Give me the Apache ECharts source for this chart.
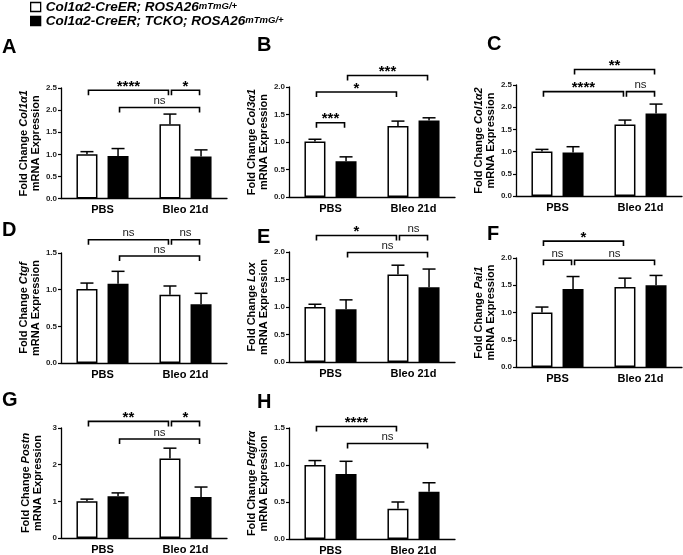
<!DOCTYPE html>
<html><head><meta charset="utf-8">
<script src="https://cdn.jsdelivr.net/npm/echarts@6/dist/echarts.min.js"></script>
<style>html,body{margin:0;padding:0;background:#fff}#c{width:683px;height:555px}</style>
</head><body><div id="c"></div>
<script>
// ---------- DATA ----------
const categories = ['PBS', 'Bleo 21d'];
const genotypes = ['Col1α2-CreER; ROSA26', 'Col1α2-CreER; TCKO; ROSA26'];
const genotypeSup = 'mTmG/+';
const panelLetters = ['A', 'B', 'C', 'D', 'E', 'F', 'G', 'H'];
const genes = ['Col1α1', 'Col3α1', 'Col1α2', 'Ctgf', 'Lox', 'Pai1', 'Postn', 'Pdgfrα'];
// means [PBS, Bleo 21d]
const ctrlMean = [[1.00, 1.68], [1.01, 1.29], [1.00, 1.61], [1.01, 0.93], [1.00, 1.59], [1.00, 1.47], [1.00, 2.17], [1.00, 0.41]];
const ctrlSem  = [[0.06, 0.23], [0.04, 0.09], [0.05, 0.10], [0.08, 0.12], [0.05, 0.17], [0.10, 0.16], [0.06, 0.28], [0.06, 0.09]];
const tckoMean = [[0.96, 0.95], [0.65, 1.39], [0.98, 1.86], [1.08, 0.80], [0.96, 1.36], [1.43, 1.50], [1.14, 1.12], [0.88, 0.64]];
const tckoSem  = [[0.17, 0.15], [0.08, 0.05], [0.13, 0.21], [0.17, 0.15], [0.17, 0.33], [0.23, 0.18], [0.09, 0.27], [0.17, 0.12]];
const yMax      = [2.5, 2.0, 2.5, 1.5, 2.0, 2.0, 3, 1.5];
const yInterval = [0.5, 0.5, 0.5, 0.5, 0.5, 0.5, 1, 0.5];
// brackets: [fromBar, toBar, level, label]; bars: 0=PBS ctrl, 1=PBS TCKO, 2=Bleo ctrl, 3=Bleo TCKO
const brackets = [
  [[0, 2, 2.45, '****'], [2, 3, 2.45, '*'], [1, 3, 2.06, 'ns']],
  [[0, 1, 1.35, '***'], [0, 2, 1.91, '*'], [1, 3, 2.21, '***']],
  [[0, 2, 2.35, '****'], [2, 3, 2.35, 'ns'], [1, 3, 2.85, '**']],
  [[0, 2, 1.68, 'ns'], [2, 3, 1.68, 'ns'], [1, 3, 1.46, 'ns']],
  [[0, 2, 2.30, '*'], [2, 3, 2.30, 'ns'], [1, 3, 1.99, 'ns']],
  [[0, 2, 2.31, '*'], [0, 1, 1.96, 'ns'], [1, 3, 1.96, 'ns']],
  [[0, 2, 3.18, '**'], [2, 3, 3.18, '*'], [1, 3, 2.70, 'ns']],
  [[0, 2, 1.52, '****'], [1, 3, 1.29, 'ns']]
];

// ---------- LAYOUT / STYLE ----------
const FONT = "'Liberation Sans', Arial, Helvetica, sans-serif";
const BAR_W = 21, BAR_GAP = '48%';
const BAR_OFF = (21 + 21 * 0.48) / 2;
const CAP = 6.5, INSET = 1.5, LEG = 5;
const gridBoxes = [
  [61, 88, 166, 110.5], [289, 87, 166, 110], [516, 85, 166, 111],
  [61, 253, 166, 110], [289, 252, 166, 110], [516, 258, 166, 109],
  [61, 428, 166, 110], [289, 428, 166, 111]
];
const letterPos = [[2, 37], [257, 35], [487, 34], [2, 220], [257, 227], [487, 224], [2, 390], [257, 392]];

const seriesNames = genotypes.map(g => g + genotypeSup);

function barCenterX(api, bar, level) {
  const p = api.coord([Math.floor(bar / 2), level]);
  return [p[0] + (bar % 2 ? 1 : -1) * BAR_OFF, p[1]];
}

function errRender(side) {
  return function (params, api) {
    const c = api.coord([api.value(0), api.value(1)]);
    const t = api.coord([api.value(0), api.value(2)]);
    const x = c[0] + side * BAR_OFF;
    const st = { stroke: '#000', lineWidth: 1.5 };
    return { type: 'group', children: [
      { type: 'line', shape: { x1: x, y1: c[1], x2: x, y2: t[1] }, style: st },
      { type: 'line', shape: { x1: x - CAP, y1: t[1], x2: x + CAP, y2: t[1] }, style: st }
    ] };
  };
}

function bracketRender(p) {
  return function (params, api) {
    const b = brackets[p][params.dataIndex];
    const level = api.value(1);
    const a = barCenterX(api, b[0], level);
    const z = barCenterX(api, b[1], level);
    const x1 = a[0] + INSET, x2 = z[0] - INSET, y = a[1];
    const st = { stroke: '#000', lineWidth: 1.6, fill: null };
    const isStar = b[3].indexOf('*') >= 0;
    return { type: 'group', children: [
      { type: 'polyline', shape: { points: [[x1, y + LEG], [x1, y], [x2, y], [x2, y + LEG]] }, style: st },
      { type: 'text', style: {
          text: b[3], x: (x1 + x2) / 2, y: isStar ? y + 4 : y - 0.5,
          align: 'center', verticalAlign: 'bottom',
          fontSize: isStar ? 15 : 11.5, fontWeight: isStar ? 'bold' : 'normal',
          fontFamily: FONT, fill: isStar ? '#000' : '#222' } }
    ] };
  };
}

const grid = [], xAxis = [], yAxis = [], series = [], title = [];
for (let p = 0; p < 8; p++) {
  const g = gridBoxes[p];
  grid.push({ left: g[0], top: g[1], width: g[2], height: g[3], outerBoundsMode: 'none', containLabel: false });
  title.push({ text: panelLetters[p], left: letterPos[p][0], top: letterPos[p][1], padding: 0,
    textStyle: { fontSize: 20, fontWeight: 'bold', fontFamily: FONT, color: '#000' } });
  xAxis.push({ type: 'category', gridIndex: p, data: categories,
    axisLine: { lineStyle: { color: '#000', width: 1.3 } },
    axisTick: { alignWithLabel: true, length: 3, lineStyle: { color: '#000', width: 1.3 } },
    axisLabel: { fontSize: 11, fontWeight: 'bold', fontFamily: FONT, color: '#000', margin: 6 } });
  const dec = yInterval[p] < 1 ? 1 : 0;
  yAxis.push({ type: 'value', gridIndex: p, min: 0, max: yMax[p], interval: yInterval[p],
    axisLine: { show: true, lineStyle: { color: '#000', width: 1.3 } },
    axisTick: { show: true, length: 3, lineStyle: { color: '#000', width: 1.2 } },
    splitLine: { show: false },
    axisLabel: { fontSize: 8, fontWeight: 'bold', fontFamily: FONT, color: '#222', margin: 4,
      formatter: v => v.toFixed(dec) },
    name: '{n|Fold Change }{g|' + genes[p] + '}\n{n|mRNA Expression}',
    nameLocation: 'middle', nameRotate: 90, nameGap: 17,
    nameTextStyle: { fontSize: 11, fontWeight: 'bold', fontFamily: FONT, color: '#000', lineHeight: 12,
      rich: { n: { fontSize: 11, fontWeight: 'bold', fontFamily: FONT, color: '#000', lineHeight: 12 },
              g: { fontSize: 11, fontWeight: 'bold', fontStyle: 'italic', fontFamily: FONT, color: '#000', lineHeight: 12 } } } });
  series.push({ type: 'bar', name: seriesNames[0], xAxisIndex: p, yAxisIndex: p, data: ctrlMean[p],
    barWidth: BAR_W, barGap: BAR_GAP,
    itemStyle: { color: '#fff', borderColor: '#000', borderWidth: 1.5 } });
  series.push({ type: 'bar', name: seriesNames[1], xAxisIndex: p, yAxisIndex: p, data: tckoMean[p],
    barWidth: BAR_W, barGap: BAR_GAP,
    itemStyle: { color: '#000', borderColor: '#000', borderWidth: 1.5 } });
  series.push({ type: 'custom', xAxisIndex: p, yAxisIndex: p, renderItem: errRender(-1), z: 3,
    encode: { x: 0, y: 1 },
    data: categories.map((c, j) => [j, ctrlMean[p][j], ctrlMean[p][j] + ctrlSem[p][j]]) });
  series.push({ type: 'custom', xAxisIndex: p, yAxisIndex: p, renderItem: errRender(1), z: 3,
    encode: { x: 0, y: 1 },
    data: categories.map((c, j) => [j, tckoMean[p][j], tckoMean[p][j] + tckoSem[p][j]]) });
  series.push({ type: 'custom', xAxisIndex: p, yAxisIndex: p, renderItem: bracketRender(p), z: 4,
    clip: false, encode: { x: 0, y: 1 },
    data: brackets[p].map(b => [0, b[2]]) });
}

const chart = echarts.init(document.getElementById('c'), null, { renderer: 'canvas' });
chart.setOption({
  animation: false,
  backgroundColor: '#fff',
  title: title,
  legend: {
    data: seriesNames, orient: 'vertical', left: 30, top: 0, padding: 0,
    icon: 'rect', itemWidth: 10, itemHeight: 9, itemGap: 0, selectedMode: false,
    itemStyle: { borderWidth: 1.3 },
    formatter: name => {
      const k = name.indexOf(genotypeSup);
      return '{b|' + name.slice(0, k) + '}{s|' + genotypeSup + '}';
    },
    textStyle: { fontFamily: FONT, color: '#000',
      rich: { b: { fontSize: 13.5, fontWeight: 'bold', fontStyle: 'italic', fontFamily: FONT, color: '#000', lineHeight: 12 },
              s: { fontSize: 9.5, fontWeight: 'bold', fontStyle: 'italic', fontFamily: FONT, color: '#000', lineHeight: 12, verticalAlign: 'top' } } }
  },
  grid: grid, xAxis: xAxis, yAxis: yAxis, series: series
});
</script></body></html>
